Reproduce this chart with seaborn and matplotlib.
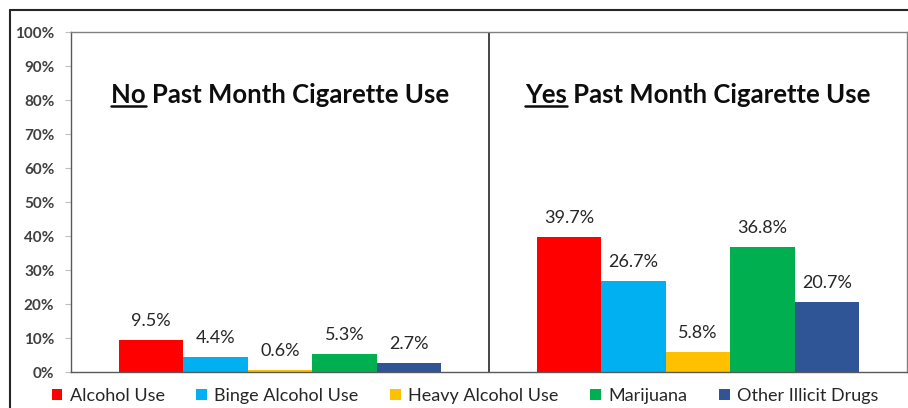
import matplotlib
matplotlib.use("Agg")
import matplotlib.pyplot as plt
from matplotlib.lines import Line2D
from matplotlib.patches import Patch
import seaborn as sns
import pandas as pd

# Past-month substance use by cigarette-use status
groups = ["No", "Yes"]
substances = ["Alcohol Use", "Binge Alcohol Use", "Heavy Alcohol Use",
              "Marijuana", "Other Illicit Drugs"]
no_cig = [9.5, 4.4, 0.6, 5.3, 2.7]
yes_cig = [39.7, 26.7, 5.8, 36.8, 20.7]
panel_titles = ["Past Month Cigarette Use", "Past Month Cigarette Use"]
y_ticks = [0, 10, 20, 30, 40, 50, 60, 70, 80, 90, 100]
colors = ["#FF0000", "#00B0F0", "#FFC000", "#00B050", "#2F5597"]

rows = []
for g, vals in zip(groups, [no_cig, yes_cig]):
    for s, v in zip(substances, vals):
        rows.append({"group": g, "substance": s, "value": v})
df = pd.DataFrame(rows)

sns.set_theme(style="white")
plt.rcParams["font.family"] = ["Lato", "DejaVu Sans"]

fig = plt.figure(figsize=(9.08, 4.08), dpi=100)
ax = fig.add_axes([71 / 908, 36 / 408, 836 / 908, 340 / 408])

sns.barplot(data=df, x="group", y="value", hue="substance", order=groups,
            hue_order=substances, palette=colors, saturation=1,
            width=0.77, gap=0, ax=ax, legend=False, linewidth=0)

ax.set_xlim(-0.5, 1.5)
ax.set_ylim(0, 100)
ax.set_yticks(y_ticks)
ax.set_yticklabels([f"{t}%" for t in y_ticks], fontsize=11, fontweight="bold",
                   color="#404040")
ax.set_xticks([])
ax.set_xlabel("")
ax.set_ylabel("")
ax.tick_params(axis="y", which="major", left=True, length=4, width=0.8,
               color="#BFBFBF", pad=8)
for name, sp in ax.spines.items():
    sp.set_visible(True)
    sp.set_color("#808080")
    sp.set_linewidth(1.0)
ax.spines["left"].set_color("#595959")
ax.spines["bottom"].set_color("#595959")

# divider between the two panels
ax.axvline(0.5, color="#262626", lw=1.2)

# value labels
for cont in ax.containers:
    ax.bar_label(cont, labels=[f"{b.get_height():.1f}%" for b in cont],
                 padding=8, fontsize=13, color="#262626")

# panel titles with underlined lead word
title_size = 18.5
fig.canvas.draw()
renderer = fig.canvas.get_renderer()
for x, lead, rest in zip([0, 1], groups, panel_titles):
    full = ax.text(x, 81.5, f"{lead} {rest}", ha="center", va="center",
                   fontsize=title_size, fontweight="bold", color="#0D0D0D")
    fig.canvas.draw()
    bb = full.get_window_extent(renderer)
    tmp = ax.text(0, 0, lead, fontsize=title_size, fontweight="bold")
    wb = tmp.get_window_extent(renderer)
    tmp.remove()
    y0 = bb.y0 + 1
    fig.add_artist(Line2D([bb.x0 / fig.bbox.width, (bb.x0 + wb.width) / fig.bbox.width],
                          [y0 / fig.bbox.height, y0 / fig.bbox.height],
                          transform=fig.transFigure, color="#0D0D0D", lw=1.8))

# legend
handles = [Patch(facecolor=c, edgecolor="none") for c in colors]
fig.legend(handles, substances, loc="center", bbox_to_anchor=(0.512, 12 / 408),
           ncol=5, frameon=False, fontsize=13, handlelength=0.6, handleheight=0.6,
           handletextpad=0.4, columnspacing=1.75, borderaxespad=0)

# outer frame
fig.add_artist(Line2D([10 / 908, 10 / 908], [0, 1 - 10 / 408],
                      transform=fig.transFigure, color="#262626", lw=1.5))
fig.add_artist(Line2D([10 / 908, 1], [1 - 10 / 408, 1 - 10 / 408],
                      transform=fig.transFigure, color="#262626", lw=1.5))

fig.savefig("out.png", dpi=100)
